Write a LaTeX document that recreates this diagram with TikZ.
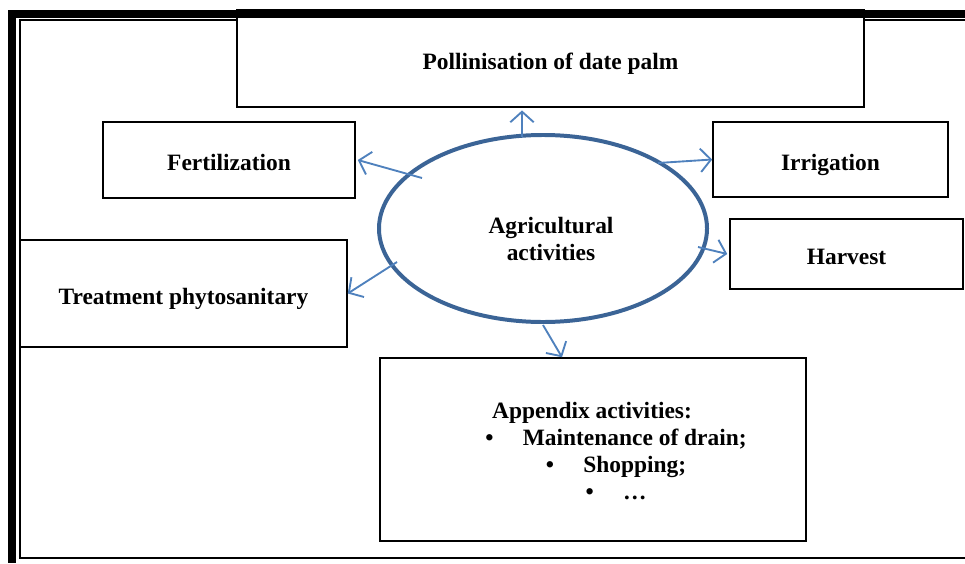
\documentclass[tikz,border=0pt]{standalone}
\usepackage{fontspec}
\setmainfont{Liberation Serif}
\usepackage{tikz}
\usetikzlibrary{arrows.meta,shapes}
\usetikzlibrary{positioning}
\definecolor{ringblue}{HTML}{3B6496}
\definecolor{arrowblue}{HTML}{4F81BD}
\tikzstyle{box} = [draw, rectangle, line width=1.3pt, fill=white,
    font=\fontsize{20}{23}\selectfont\bfseries,
    text height=21pt, text depth=3pt]
\tikzstyle{ring} = [draw=ringblue, ellipse, line width=3.4pt, inner sep=0pt,
    minimum width=9.84cm, minimum height=5.61cm]
\tikzstyle{label} = [font=\fontsize{20}{23}\selectfont\bfseries, align=center]
\tikzstyle{link} = [-{Straight Barb[length=9pt,width=20pt]}, arrowblue,
    line width=1.6pt]

\begin{document}
\begin{tikzpicture}[x=0.03cm, y=-0.03cm]
  \useasboundingbox (0,0) rectangle (965,563);
  % Frame
  \draw[line width=1pt] (965,20) -- (20,20) -- (20,558) -- (965,558);
  % Place nodes
  \node [box, minimum width=18.81cm, minimum height=2.91cm] (pollin) at (550.5,58.5)
  {Pollinisation of date palm};
  \node [box, minimum width=7.56cm, minimum height=2.28cm] (fert) at (229,160) {Fertilization};
  \node [box, minimum width=7.05cm, minimum height=2.25cm] (irrig) at (830.5,159.5) {Irrigation};
  \node [box, minimum width=6.99cm, minimum height=2.1cm] (harv) at (846.5,254) {Harvest};
  \node [box, minimum width=9.81cm, minimum height=3.21cm] (treat) at (183.5,293.5)
  {Treatment phytosanitary};
  \node [box, minimum width=12.78cm, minimum height=5.49cm] (append) at (593,449.5) {};
  \node [label] (applist) at (616,451)
  {\hspace*{-1.44cm}Appendix activities:\\
   \textbullet\hspace{1.25em}Maintenance of drain;\\
   \textbullet\hspace{1.25em}Shopping;\\
   \textbullet\hspace{1.25em}\dots};
  \node [ring] (agri) at (543,228.5) {};
  \node [label] (agritext) at (551,239) {Agricultural\\activities};
  % Thick frame edges over the boxes
  \fill (8,10) rectangle (965,18);
  \fill (8,10) rectangle (16,563);
  % Arrow starts
  \coordinate (s1) at (522,137);
  \coordinate (s2) at (422,178);
  \coordinate (s3) at (658,163);
  \coordinate (s4) at (698,247);
  \coordinate (s5) at (397,262);
  \coordinate (s6) at (543,325);
  \draw[link] (s1) -- ([yshift=-0.08cm]s1 |- pollin.south);
  \draw[link] (s2) -- ([xshift=0.06cm]fert.east);
  \draw[link] (s3) -- (irrig.west);
  \draw[link] (s4) -- ([xshift=-0.06cm]harv.west);
  \draw[link] (s5) -- (treat.east);
  \draw[link] (s6) -- ([xshift=-0.93cm]append.north);
\end{tikzpicture}
\end{document}
